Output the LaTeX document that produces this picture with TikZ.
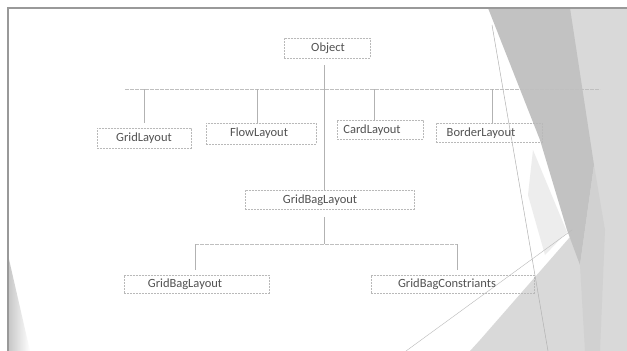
\documentclass[tikz,border=0pt]{standalone}
\usepackage{fontspec}
\setmainfont{Carlito}
\begin{document}
\begin{tikzpicture}[x=1pt,y=-1pt,
  box/.style={draw=gray!55, dashed, dash pattern=on 2pt off 1pt, line width=0.5pt, inner sep=0pt, anchor=north west},
  lbl/.style={text=black!68, font=\fontsize{12.5}{14}\selectfont, inner sep=0pt},
  conn/.style={draw=gray!60, line width=0.6pt},
  bus/.style={draw=gray!50, line width=0.6pt, dash pattern=on 4pt off 1pt}]
\useasboundingbox (0,0) rectangle (627,351);
\fill[white] (0,0) rectangle (627,351);
% background shapes
\fill[gray!30] (540,8) -- (627,8) -- (627,351) -- (470,351) -- (480,340) -- (570,237) -- (560,200) -- cycle;
\fill[gray!14] (533,150) -- (567,232) -- (545,255) -- (528,195) -- cycle;
\fill[gray!48] (488,8) -- (570,8) -- (594,165) -- (580,265) -- (567,230) -- (540,140) -- cycle;
\fill[gray!36] (580,265) -- (594,165) -- (605,230) -- (600,351) -- (585,351) -- cycle;
\draw[gray!60, line width=0.5pt] (492,25) -- (548,351);
\draw[gray!55, line width=0.4pt] (406,351) -- (572,230);
\shade[left color=gray!45, right color=white] (8,255) -- (8,351) -- (30,351) -- cycle;
\draw[gray!80, line width=1.2pt] (8,351) -- (8,8) -- (627,8);
% boxes
\node[box, minimum width=86, minimum height=20] (obj) at (284,38) {};
\node[lbl] (objt) at (328,48) {Object};
\node[box, minimum width=94, minimum height=20] (grid) at (97,128) {};
\node[lbl] (gridt) at (144,138) {GridLayout};
\node[box, minimum width=110, minimum height=21] (flow) at (206,123) {};
\node[lbl] (flowt) at (259,133) {FlowLayout};
\node[box, minimum width=86, minimum height=19] (card) at (337,120) {};
\node[lbl] (cardt) at (372,130) {CardLayout};
\node[box, minimum width=106, minimum height=19] (border) at (436,123) {};
\node[lbl] (bordert) at (481,133) {BorderLayout};
\node[box, minimum width=169, minimum height=19] (gbl) at (245,190) {};
\node[lbl] (gblt) at (320,200) {GridBagLayout};
\node[box, minimum width=145, minimum height=18] (gbl2) at (124,275) {};
\node[lbl] (gbl2t) at (185,284) {GridBagLayout};
\node[box, minimum width=163, minimum height=18] (gbc) at (371,275) {};
\node[lbl] (gbct) at (447,284) {GridBagConstriants};
% connectors
\coordinate (o1) at (324,65);
\coordinate (busL) at (125,89);
\coordinate (busR) at (600,89);
\coordinate (b1) at (144,89);
\coordinate (b2) at (257,89);
\coordinate (b3) at (374,89);
\coordinate (b4) at (492,89);
\draw[bus] (busL) -- (busR);
\draw[conn] (o1) -- (324,190);
\draw[conn] (b1) -- (144,123);
\draw[conn] (b2) -- (257,123);
\draw[conn] (b3) -- (374,121);
\draw[conn] (b4) -- (492,123);
\coordinate (g1) at (324,217);
\coordinate (h1) at (195,244);
\coordinate (h2) at (457,244);
\draw[conn] (g1) -- (324,244);
\draw[bus] (h1) -- (h2);
\draw[conn] (h1) -- (195,270);
\draw[conn] (h2) -- (457,270);
\end{tikzpicture}
\end{document}
